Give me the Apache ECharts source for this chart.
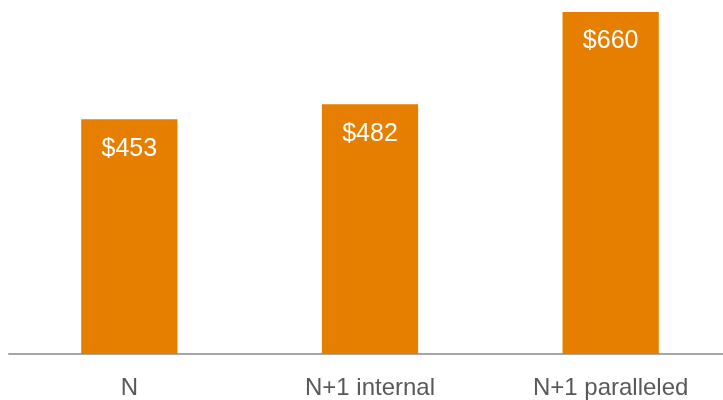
<!DOCTYPE html>
<html>
<head>
<meta charset="utf-8">
<script src="https://cdn.jsdelivr.net/npm/echarts@6/dist/echarts.min.js"></script>
<style>html,body{margin:0;padding:0;background:#fff}#c{width:723px;height:400px}</style>
</head>
<body>
<div id="c"></div>
<script>
var categories = ['N', 'N+1 internal', 'N+1 paralleled'];
var values = [453, 482, 660];

var chart = echarts.init(document.getElementById('c'), null, {renderer: 'canvas'});
chart.setOption({
  animation: false,
  grid: {left: 9, width: 722, top: 0, bottom: 46, containLabel: false, outerBoundsMode: 'none'},
  xAxis: {
    type: 'category',
    data: categories,
    axisLine: {lineStyle: {color: '#a6a6a6', width: 2}},
    axisTick: {show: false},
    axisLabel: {color: '#595959', fontSize: 24, fontFamily: 'Liberation Sans, Arial, sans-serif', margin: 22}
  },
  yAxis: {type: 'value', min: 0, max: 683, show: false, splitLine: {show: false}},
  series: [{
    type: 'bar',
    data: values,
    barWidth: '40%',
    itemStyle: {color: '#e67e00'},
    label: {
      show: true,
      position: 'insideTop',
      distance: 17,
      color: '#ffffff',
      fontSize: 25,
      fontFamily: 'Liberation Sans, Arial, sans-serif',
      formatter: function (p) { return '$' + p.value; }
    }
  }]
});
</script>
</body>
</html>
